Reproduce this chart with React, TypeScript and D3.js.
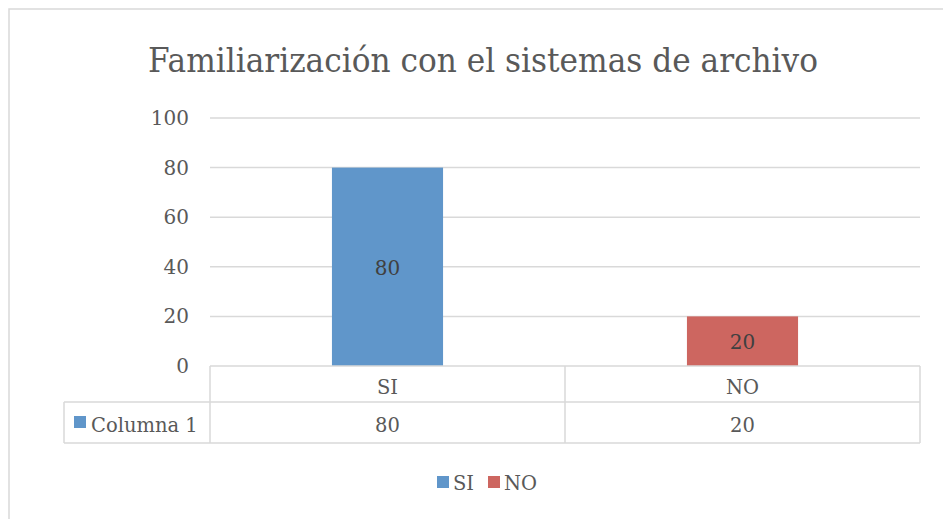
import React from "react";
import * as d3 from "d3";

const title = "Familiarización con el sistemas de archivo";
const categories = ["SI", "NO"];
const values = [80, 20];
const seriesName = "Columna 1";
const yTicks = [0, 20, 40, 60, 80, 100];
const colors = ["#6096CA", "#CD6660"];

const width = 943;
const height = 519;
const plot = { left: 210, right: 920, top: 118, bottom: 366 };
const table = { left: 64, headBottom: 402, bottom: 443 };
const font = "'DejaVu Serif', 'Liberation Serif', serif";
const grid = "#D9D9D9";
const textColor = "#595959";

const App = () => {
  const x = d3
    .scaleBand<string>()
    .domain(categories)
    .range([plot.left, plot.right])
    .paddingInner(0.687)
    .paddingOuter(0.3435);

  const y = d3.scaleLinear().domain([0, 100]).range([plot.bottom, plot.top]);

  // column edges of the data table, one per category
  const colEdges = categories.map((c) => x(c)! - (x.step() * x.paddingInner()) / 2);

  return (
    <svg
      width={width}
      height={height}
      style={{ position: "absolute", left: 0, top: 0, background: "#fff" }}
      fontFamily={font}
    >
      {/* outer chart border */}
      <rect x={9} y={9} width={960} height={540} fill="none" stroke={grid} strokeWidth={1.5} />

      <text x={483} y={72} textAnchor="middle" fontSize={34} fill={textColor} textLength={670} lengthAdjust="spacingAndGlyphs">
        {title}
      </text>

      {/* gridlines + y ticks */}
      {yTicks.map((t) => (
        <g key={t}>
          {t > 0 && (
            <line x1={plot.left} x2={plot.right} y1={y(t)} y2={y(t)} stroke={grid} strokeWidth={1.5} />
          )}
          <text x={189} y={y(t) + 7} textAnchor="end" fontSize={20} fill={textColor}>
            {t}
          </text>
        </g>
      ))}

      {/* bars */}
      {categories.map((c, i) => (
        <g key={c}>
          <rect
            x={x(c)}
            y={y(values[i])}
            width={x.bandwidth()}
            height={y(0) - y(values[i])}
            fill={colors[i]}
          />
          <text
            x={x(c)! + x.bandwidth() / 2}
            y={(y(values[i]) + y(0)) / 2 + 8}
            textAnchor="middle"
            fontSize={20}
            fill="#404040"
          >
            {values[i]}
          </text>
        </g>
      ))}

      {/* data table */}
      <g stroke={grid} strokeWidth={1.5} fill="none">
        <line x1={plot.left} x2={plot.right} y1={plot.bottom} y2={plot.bottom} />
        <line x1={table.left} x2={plot.right} y1={table.headBottom} y2={table.headBottom} />
        <line x1={table.left} x2={plot.right} y1={table.bottom} y2={table.bottom} />
        <line x1={table.left} x2={table.left} y1={table.headBottom} y2={table.bottom} />
        {colEdges.map((e, i) => (
          <line key={i} x1={e} x2={e} y1={plot.bottom} y2={table.bottom} />
        ))}
        <line x1={plot.right} x2={plot.right} y1={plot.bottom} y2={table.bottom} />
      </g>
      {categories.map((c, i) => (
        <g key={c}>
          <text x={x(c)! + x.bandwidth() / 2} y={394} textAnchor="middle" fontSize={19.5} fill={textColor}>
            {c}
          </text>
          <text x={x(c)! + x.bandwidth() / 2} y={432} textAnchor="middle" fontSize={19.5} fill={textColor}>
            {values[i]}
          </text>
        </g>
      ))}
      <rect x={74} y={416} width={12} height={12} fill={colors[0]} />
      <text x={91} y={432} fontSize={19.5} fill={textColor}>
        {seriesName}
      </text>

      {/* legend */}
      {categories.map((c, i) => {
        const lx = 437 + i * 51;
        return (
          <g key={c}>
            <rect x={lx} y={476} width={12} height={12} fill={colors[i]} />
            <text x={lx + 16} y={490} fontSize={19.5} fill={textColor}>
              {c}
            </text>
          </g>
        );
      })}
    </svg>
  );
};

export default App;
